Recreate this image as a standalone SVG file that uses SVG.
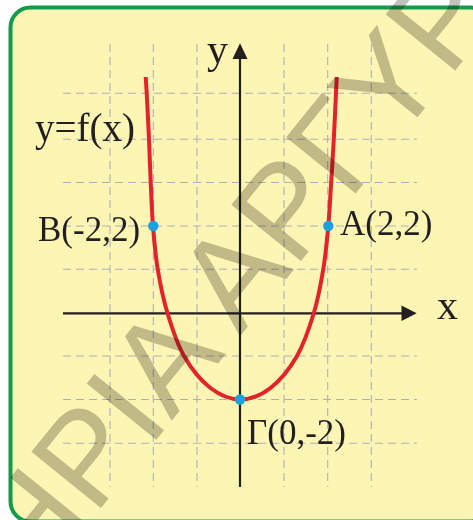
<svg xmlns="http://www.w3.org/2000/svg" width="473" height="520" viewBox="0 0 473 520">
  <style>
    .grid { stroke: #aeb0b8; stroke-width: 1.1; stroke-dasharray: 8 5; fill: none; }
    .axis { stroke: #231f20; stroke-width: 2.2; fill: none; }
    .arrow { fill: #231f20; }
    .curve { stroke: #e3232a; stroke-width: 4; fill: none; stroke-linecap: butt; }
    .pt { fill: #1ba0e2; }
    .lbl { font-family: "Liberation Serif", "Times New Roman", serif; fill: #231f20; }
    .wm { font-family: "Liberation Sans", Arial, sans-serif; font-size: 130px; fill: #c3c1be; mix-blend-mode: multiply; }
  </style>
  <rect x="0" y="0" width="473" height="520" fill="#ffffff"/>
  <rect id="card" x="10.5" y="7.5" width="480" height="514" rx="20" ry="20" fill="#fdf5b4" stroke="#139a4b" stroke-width="4"/>

  <g id="grid">
    <line class="grid" x1="110" y1="44" x2="110" y2="487"/>
    <line class="grid" x1="153.3" y1="44" x2="153.3" y2="487"/>
    <line class="grid" x1="197" y1="44" x2="197" y2="487"/>
    <line class="grid" x1="284" y1="44" x2="284" y2="487"/>
    <line class="grid" x1="327.7" y1="44" x2="327.7" y2="487"/>
    <line class="grid" x1="371.3" y1="44" x2="371.3" y2="487"/>
    <line class="grid" x1="63" y1="93.3" x2="417" y2="93.3"/>
    <line class="grid" x1="63" y1="139.3" x2="417" y2="139.3"/>
    <line class="grid" x1="63" y1="182.5" x2="417" y2="182.5"/>
    <line class="grid" x1="63" y1="226" x2="417" y2="226"/>
    <line class="grid" x1="63" y1="269.3" x2="417" y2="269.3"/>
    <line class="grid" x1="63" y1="356" x2="417" y2="356"/>
    <line class="grid" x1="63" y1="399.5" x2="417" y2="399.5"/>
    <line class="grid" x1="63" y1="443.3" x2="417" y2="443.3"/>
  </g>

  <g id="axes">
    <line class="axis" x1="63" y1="313.3" x2="403" y2="313.3"/>
    <polygon class="arrow" points="416.7,313.3 401.5,305.5 401.5,321.1"/>
    <line class="axis" x1="240" y1="487" x2="240" y2="57"/>
    <polygon class="arrow" points="240,43.3 232.5,59 247.5,59"/>
  </g>

  <g id="graph">
    <path class="curve" d="M145.7,77 C146.03,82.33 146.15,82.67 146.7,93 C147.25,103.33 148.33,124.17 149,139 C149.67,153.83 150.03,167.5 150.7,182 C151.37,196.5 151.83,211.5 153,226 C154.17,240.5 155.32,254.58 157.7,269 C160.08,283.42 162.92,298 167.3,312.5 C171.68,327 176.8,343.42 184,356 C191.2,368.58 201.08,380.75 210.5,388 C219.92,395.25 230.5,399.5 240.5,399.5 C250.5,399.5 261.08,395.25 270.5,388 C279.92,380.75 289.75,368.58 297,356 C304.25,343.42 309.62,327 314,312.5 C318.38,298 320.92,283.42 323.3,269 C325.68,254.58 326.98,240.5 328.3,226 C329.62,211.5 330.28,196.5 331.2,182 C332.12,167.5 333,153.83 333.8,139 C334.6,124.17 335.5,103.33 336,93 C336.5,82.67 336.53,82.33 336.8,77"/>
  </g>

  <g id="pointB"><circle class="pt" cx="153.3" cy="226" r="5.2"/><text class="lbl" x="38" y="241" font-size="35">B(-2,2)</text></g>
  <g id="pointA"><circle class="pt" cx="328.3" cy="226" r="5.2"/><text class="lbl" x="340" y="235" font-size="35">A(2,2)</text></g>
  <g id="pointG"><circle class="pt" cx="240" cy="399.5" r="5.2"/><text class="lbl" x="247" y="443.5" font-size="35">Γ(0,-2)</text></g>

  <g id="labels">
    <text class="lbl" x="207" y="63" font-size="42">y</text>
    <text class="lbl" x="437" y="318.5" font-size="42">x</text>
    <text class="lbl" x="35" y="141" font-size="39">y=f(x)</text>
  </g>

  <g id="watermark">
    <text class="wm" transform="translate(35.1,589.3) rotate(-51)" x="0" y="0">ΗΡΙΑ ΑΡΓΥΡ</text>
  </g>
</svg>
